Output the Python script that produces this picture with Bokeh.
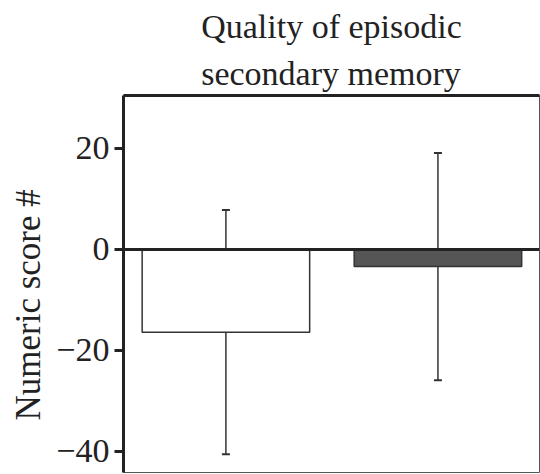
from bokeh.plotting import figure
from bokeh.models import (ColumnDataSource, Whisker, Span, Title, LinearAxis,
                          FixedTicker, TeeHead, Range1d)
from bokeh.embed import file_html
from bokeh.resources import INLINE

# Data
groups = [1, 2]
means = [-16.4, -3.4]
errors = [24.2, 22.5]
fills = ["#ffffff", "#555555"]
y_ticks = [-40, -20, 0, 20]
title_lines = ["Quality of episodic", "secondary memory"]
y_label = "Numeric score #"

FONT = "Liberation Serif"
INK = "#222222"

upper = [m + e for m, e in zip(means, errors)]
lower = [m - e for m, e in zip(means, errors)]
src = ColumnDataSource(dict(x=groups, top=means, fill=fills, upper=upper, lower=lower))

p = figure(width=540, height=474, output_backend="svg", toolbar_location=None,
           title_location=None,
           x_range=Range1d(0.517, 2.479), y_range=Range1d(-44.2, 30.5),
           min_border_left=123, min_border_right=1, min_border_top=95,
           min_border_bottom=2, x_axis_location=None)
p.grid.visible = False
p.background_fill_color = "white"
p.border_fill_color = "white"
p.outline_line_color = "#555555"
p.outline_line_width = 1

# left axis
ax = p.yaxis[0]
ax.ticker = FixedTicker(ticks=y_ticks)
ax.axis_line_width = 3
ax.axis_line_color = INK
ax.major_tick_line_width = 3
ax.major_tick_line_color = INK
ax.major_tick_out = 9
ax.major_tick_in = 0
ax.minor_tick_line_color = None
ax.major_label_standoff = 5
ax.major_label_text_font = FONT
ax.major_label_text_font_size = "34px"
ax.major_label_text_color = INK

# heavy top edge of the box
top_axis = LinearAxis(ticker=FixedTicker(ticks=[]), axis_line_width=3,
                      axis_line_color=INK, major_tick_line_color=None,
                      minor_tick_line_color=None, major_tick_out=0,
                      major_tick_in=0, major_label_standoff=0,
                      axis_label_standoff=0)
p.add_layout(top_axis, "above")

p.vbar(x="x", top="top", bottom=0, width=0.79, fill_color="fill",
       line_color="#333333", line_width=1.5, source=src)

p.add_layout(Span(location=0, dimension="width", line_color=INK, line_width=3))

wh = Whisker(base="x", upper="upper", lower="lower", source=src,
             line_color="#333333", line_width=1.5,
             upper_head=TeeHead(size=8, line_color="#333333", line_width=2),
             lower_head=TeeHead(size=8, line_color="#333333", line_width=2))
p.add_layout(wh)

# two-line heading above the box
p.add_layout(Title(text="\n".join(title_lines), align="center", offset=-3,
                   standoff=8, text_font=FONT, text_font_size="34px",
                   text_line_height=1.25, text_font_style="normal",
                   text_color=INK), "above")

# vertical axis title
p.add_layout(Title(text=y_label, align="left", offset=52, standoff=12,
                   text_font=FONT, text_font_size="35px",
                   text_font_style="normal", text_color=INK), "left")

open("out.html", "w").write(file_html(p, INLINE))
